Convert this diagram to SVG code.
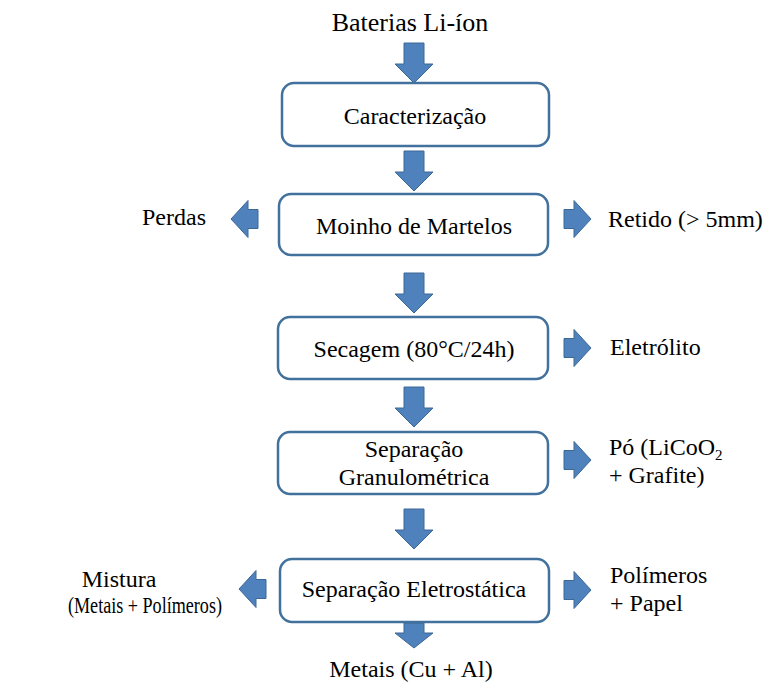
<svg xmlns="http://www.w3.org/2000/svg" xmlns:xlink="http://www.w3.org/1999/xlink" width="768" height="686" viewBox="0 0 768 686">
<style>
.box{fill:#ffffff;stroke:#41719C;stroke-width:2.5}
.arr{fill:#4F81BD;stroke:#3C6896;stroke-width:1}
text{font-family:"Liberation Serif","Times New Roman",serif;font-size:24px;fill:#000}
.c{text-anchor:middle}
</style>
<defs>
<path id="down" d="M-10,0 H10 V21 H19 L0,40 L-19,21 H-10 Z"/>
<path id="right" d="M0,-9.5 H10 V-18.5 L27,0 L10,18.5 V9.5 H0 Z"/>
<path id="left" d="M0,-9.5 H-10 V-18.5 L-27,0 L-10,18.5 V9.5 H0 Z"/>
</defs>
<g id="connectors">
<use href="#down" class="arr" x="414" y="43"/>
<use href="#down" class="arr" x="414" y="151"/>
<use href="#down" class="arr" x="414" y="273"/>
<use href="#down" class="arr" x="414" y="387"/>
<use href="#down" class="arr" x="414" y="509"/>
<path class="arr" d="M404,623 H424 V633 H433 L414,648 L395,633 H404 Z"/>
<use href="#left" class="arr" x="258" y="219"/>
<use href="#right" class="arr" x="564" y="219"/>
<use href="#right" class="arr" x="564" y="348"/>
<use href="#right" class="arr" x="564" y="460"/>
<use href="#left" class="arr" x="266" y="589"/>
<use href="#right" class="arr" x="564" y="590"/>
</g>
<g id="n-baterias"><text class="c" x="410" y="31" style="font-size:26px">Baterias Li-íon</text></g>
<g id="n-caracterizacao"><rect class="box" x="282" y="83" width="267" height="63" rx="12"/><text class="c" x="415" y="124">Caracterização</text></g>
<g id="n-moinho"><rect class="box" x="279" y="194" width="269" height="61" rx="12"/><text class="c" x="414" y="234">Moinho de Martelos</text></g>
<g id="n-perdas"><text x="142" y="225">Perdas</text></g>
<g id="n-retido"><text x="608" y="227">Retido (&gt; 5mm)</text></g>
<g id="n-secagem"><rect class="box" x="278" y="317" width="270" height="62" rx="12"/><text class="c" x="414" y="357">Secagem (80°C/24h)</text></g>
<g id="n-eletrolito"><text x="610" y="355">Eletrólito</text></g>
<g id="n-granulometrica"><rect class="box" x="278" y="432" width="270" height="62" rx="12"/><text class="c" x="414" y="457">Separação</text><text class="c" x="414" y="485">Granulométrica</text></g>
<g id="n-po"><text x="609" y="455">Pó (LiCoO<tspan style="font-size:15px" dy="5">2</tspan></text><text x="609" y="483">+ Grafite)</text></g>
<g id="n-eletrostatica"><rect class="box" x="280" y="559" width="269" height="63" rx="12"/><text class="c" x="414" y="597">Separação Eletrostática</text></g>
<g id="n-mistura"><text class="c" x="119" y="587">Mistura</text><text x="68" y="613" textLength="154" lengthAdjust="spacingAndGlyphs">(Metais + Polímeros)</text></g>
<g id="n-polimeros"><text x="610" y="583">Polímeros</text><text x="610" y="611">+ Papel</text></g>
<g id="n-metais"><text class="c" x="411" y="677">Metais (Cu + Al)</text></g>
</svg>
